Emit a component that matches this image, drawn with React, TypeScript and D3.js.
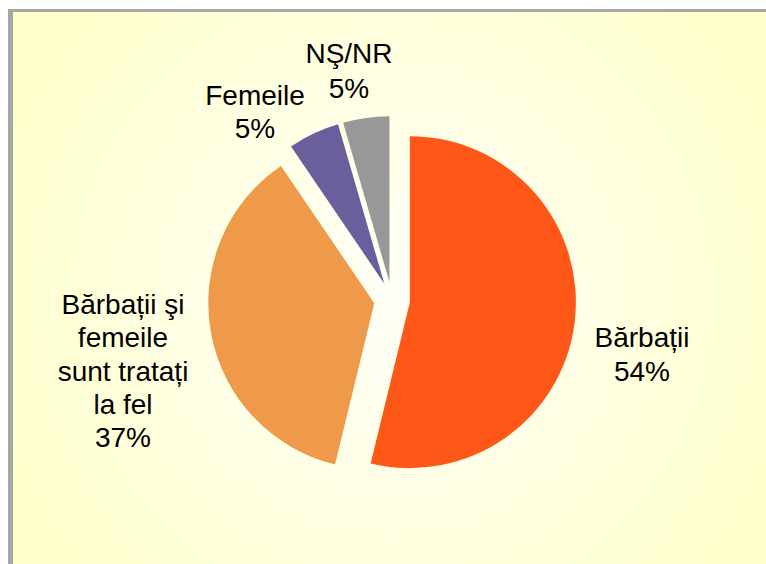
import React, { useEffect, useRef } from 'react';
import * as d3 from 'd3';

// slice values (percent of 360 degrees)
const categories = ['Bărbații', 'Bărbații şi femeile sunt tratați la fel', 'Femeile', 'NŞ/NR'];
const values = [53.8, 36.7, 5.0, 4.5];
const labelLines = [
  ['Bărbații', '54%'],
  ['Bărbații şi', 'femeile', 'sunt tratați', 'la fel', '37%'],
  ['Femeile', '5%'],
  ['NŞ/NR', '5%'],
];
const colors = ['#FF5718', '#EF9A4A', '#6B5E9D', '#989898'];

const W = 766;
const H = 564;

export default function App() {
  const ref = useRef<SVGSVGElement | null>(null);

  useEffect(() => {
    const svg = d3.select(ref.current);
    svg.selectAll('*').remove();

    const defs = svg.append('defs');
    const grad = defs.append('radialGradient')
      .attr('id', 'bg')
      .attr('gradientUnits', 'userSpaceOnUse')
      .attr('cx', 392).attr('cy', 300).attr('r', 420);
    grad.append('stop').attr('offset', '0%').attr('stop-color', '#FFFFF6');
    grad.append('stop').attr('offset', '45%').attr('stop-color', '#FFFFE6');
    grad.append('stop').attr('offset', '100%').attr('stop-color', '#FFFFCC');

    svg.append('rect').attr('width', W).attr('height', H).attr('fill', '#ffffff');
    svg.append('rect')
      .attr('x', 8).attr('y', 9)
      .attr('width', W - 8).attr('height', H - 9)
      .attr('fill', '#A6A6A6');
    svg.append('rect')
      .attr('x', 13).attr('y', 12)
      .attr('width', W - 13).attr('height', H - 12)
      .attr('fill', 'url(#bg)');

    const cx = 392, cy = 300, radius = 166, explode = 18;

    const pie = d3.pie<number>().sort(null).value(d => d);
    const arcs = pie(values);
    const arc = d3.arc<d3.PieArcDatum<number>>().innerRadius(0).outerRadius(radius);

    const g = svg.append('g').attr('transform', `translate(${cx}, ${cy})`);

    g.selectAll('path')
      .data(arcs)
      .join('path')
      .attr('d', arc)
      .attr('fill', (d, i) => colors[i])
      .attr('transform', d => {
        const a = (d.startAngle + d.endAngle) / 2;
        return `translate(${explode * Math.sin(a)}, ${-explode * Math.cos(a)})`;
      });

    // label anchor points (centre x, first baseline y) in page coordinates
    const labelPos = [
      [642, 347],
      [123, 314],
      [255, 105],
      [349, 63],
    ];
    const lineH = [34, 33.3, 33, 35];

    labelLines.forEach((lines, i) => {
      const t = svg.append('text')
        .attr('text-anchor', 'middle')
        .attr('font-family', '"Liberation Sans", Arial, sans-serif')
        .attr('font-size', 28)
        .attr('fill', '#000')
        .attr('aria-label', categories[i]);
      lines.forEach((s, j) => {
        t.append('tspan')
          .attr('x', labelPos[i][0])
          .attr('y', labelPos[i][1] + j * lineH[i])
          .text(s);
      });
    });
  }, []);

  return (
    <svg
      ref={ref}
      width={W}
      height={H}
      style={{ position: 'absolute', left: 0, top: 0, display: 'block' }}
    />
  );
}
